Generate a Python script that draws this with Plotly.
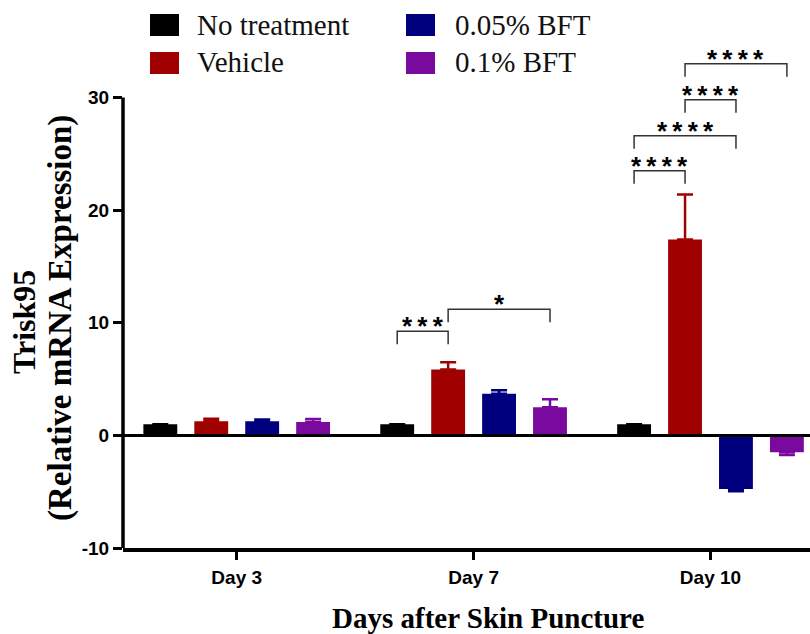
import plotly.graph_objects as go

# ---------------- data ----------------
days = ["Day 3", "Day 7", "Day 10"]
groups = ["No treatment", "Vehicle", "0.05% BFT", "0.1% BFT"]
colors = ["#000000", "#A00000", "#00007F", "#7A0A9E"]

no_treatment = [1.0, 1.0, 1.0]
vehicle = [1.25, 5.85, 17.4]
bft_005 = [1.25, 3.7, -4.75]
bft_01 = [1.2, 2.5, -1.5]
values = [no_treatment, vehicle, bft_005, bft_01]

no_treatment_err = [0.0, 0.0, 0.0]
vehicle_err = [0.22, 0.65, 4.0]
bft_005_err = [0.17, 0.3, 0.2]
bft_01_err = [0.25, 0.7, 0.25]
errors = [no_treatment_err, vehicle_err, bft_005_err, bft_01_err]

y_ticks = [-10, 0, 10, 20, 30]

# significance comparisons: (day index, group a, group b, bracket level, label)
comparisons = [
    (1, 0, 1, 9.25, "***"),
    (1, 1, 3, 11.2, "*"),
    (2, 0, 1, 23.5, "****"),
    (2, 0, 2, 26.6, "****"),
    (2, 1, 2, 29.8, "****"),
    (2, 1, 3, 33.0, "****"),
]

# ---------------- layout constants ----------------
W, H = 810, 634
L, R, T, B = 123, 0, 30, 86
PW, PH = W - L - R, H - T - B
BARGAP, BARGROUPGAP = 0.14, 0.335
NG = len(groups)
Y0, Y1 = -10, 36
PX_PER_UNIT = PH / (Y1 - Y0)


def px2x(px):
    return (px - L) / PW


def py2y(py):
    return (H - B - py) / PH


fig = go.Figure()
for gi, g in enumerate(groups):
    vals = values[gi]
    errs = errors[gi]
    up = [e if v >= 0 else 0 for v, e in zip(vals, errs)]
    down = [e if v < 0 else 0 for v, e in zip(vals, errs)]
    fig.add_trace(go.Bar(
        x=days, y=vals, name=g,
        marker=dict(color=colors[gi], line=dict(width=0)),
        error_y=dict(type="data", symmetric=False, array=up, arrayminus=down,
                     color=colors[gi], thickness=2.5, width=8, visible=True),
        showlegend=False,
    ))

shapes = []
annotations = []

# y axis line (from -10 to 30 only)
shapes.append(dict(type="line", xref="paper", yref="y", x0=0, x1=0,
                   y0=y_ticks[0], y1=y_ticks[-1],
                   line=dict(color="black", width=3.5), layer="above"))
# zero line
shapes.append(dict(type="line", xref="paper", yref="y", x0=0, x1=1, y0=0, y1=0,
                   line=dict(color="black", width=3), layer="above"))

# significance brackets
slot = (1 - BARGAP) / NG
STAR_FS = 26


def bar_center(day_i, g_i):
    return day_i + (g_i - (NG - 1) / 2) * slot


for d, a, b, lvl, lab in comparisons:
    xa, xb = bar_center(d, a), bar_center(d, b)
    drop = 1.15
    shapes.append(dict(type="path", xref="x", yref="y",
                       path=f"M {xa},{lvl - drop} L {xa},{lvl} L {xb},{lvl} L {xb},{lvl - drop}",
                       line=dict(color="#333333", width=1.5)))
    annotations.append(dict(x=(xa + xb) / 2, y=lvl + (13 - 0.31 * STAR_FS) / PX_PER_UNIT,
                            xref="x", yref="y",
                            text="\u2009".join(lab), showarrow=False,
                            xanchor="center", yanchor="middle",
                            font=dict(family="Liberation Sans", size=STAR_FS, color="black", weight="bold")))

# manual legend
leg_pos = [(150, 14, 195, 25), (150, 52, 195, 62), (406, 14, 453, 25), (406, 52, 453, 62)]
for gi, g in enumerate(groups):
    sx, sy, tx, ty = leg_pos[gi]
    shapes.append(dict(type="rect", xref="paper", yref="paper",
                       x0=px2x(sx), x1=px2x(sx + 29), y0=py2y(sy + 22), y1=py2y(sy),
                       fillcolor=colors[gi], line=dict(width=0)))
    annotations.append(dict(x=px2x(tx), y=py2y(ty), xref="paper", yref="paper",
                            text=g, showarrow=False, xanchor="left", yanchor="middle",
                            font=dict(family="Liberation Serif", size=29, color="#111111")))

# y axis title (two lines)
annotations.append(dict(x=px2x(24), y=py2y(322), xref="paper", yref="paper",
                        text="Trisk95", showarrow=False, textangle=-90,
                        xanchor="center", yanchor="middle",
                        font=dict(family="Liberation Serif", size=32, color="black", weight="bold")))
annotations.append(dict(x=px2x(60), y=py2y(318), xref="paper", yref="paper",
                        text="(Relative mRNA Expression)", showarrow=False, textangle=-90,
                        xanchor="center", yanchor="middle",
                        font=dict(family="Liberation Serif", size=33, color="black", weight="bold")))
# x axis title
annotations.append(dict(x=0.5 * (px2x(338) + px2x(637)), y=py2y(618), xref="paper", yref="paper",
                        text="Days after Skin Puncture", showarrow=False,
                        xanchor="center", yanchor="middle",
                        font=dict(family="Liberation Serif", size=29, color="black", weight="bold")))

fig.update_layout(
    width=W, height=H,
    margin=dict(l=L, r=R, t=T, b=B, pad=0),
    paper_bgcolor="white", plot_bgcolor="white",
    barmode="group", bargap=BARGAP, bargroupgap=BARGROUPGAP,
    shapes=shapes, annotations=annotations,
    showlegend=False,
    xaxis=dict(type="category", range=[-0.48, 2.42], showline=True, linecolor="black",
               linewidth=3.5, ticks="outside", ticklen=8, tickwidth=3, tickcolor="black",
               ticklabelstandoff=1, showgrid=False, zeroline=False,
               tickfont=dict(family="Liberation Sans", size=19, color="black", weight="bold")),
    yaxis=dict(range=[Y0, Y1], tickvals=y_ticks, ticktext=[str(v) for v in y_ticks],
               showline=False, ticks="outside", ticklen=9, tickwidth=3, tickcolor="black",
               showgrid=False, zeroline=False,
               tickfont=dict(family="Liberation Sans", size=19, color="black", weight="bold")),
)

fig.write_html("out.html", config={"displayModeBar": False},
               post_script="document.body.style.margin='0';")
